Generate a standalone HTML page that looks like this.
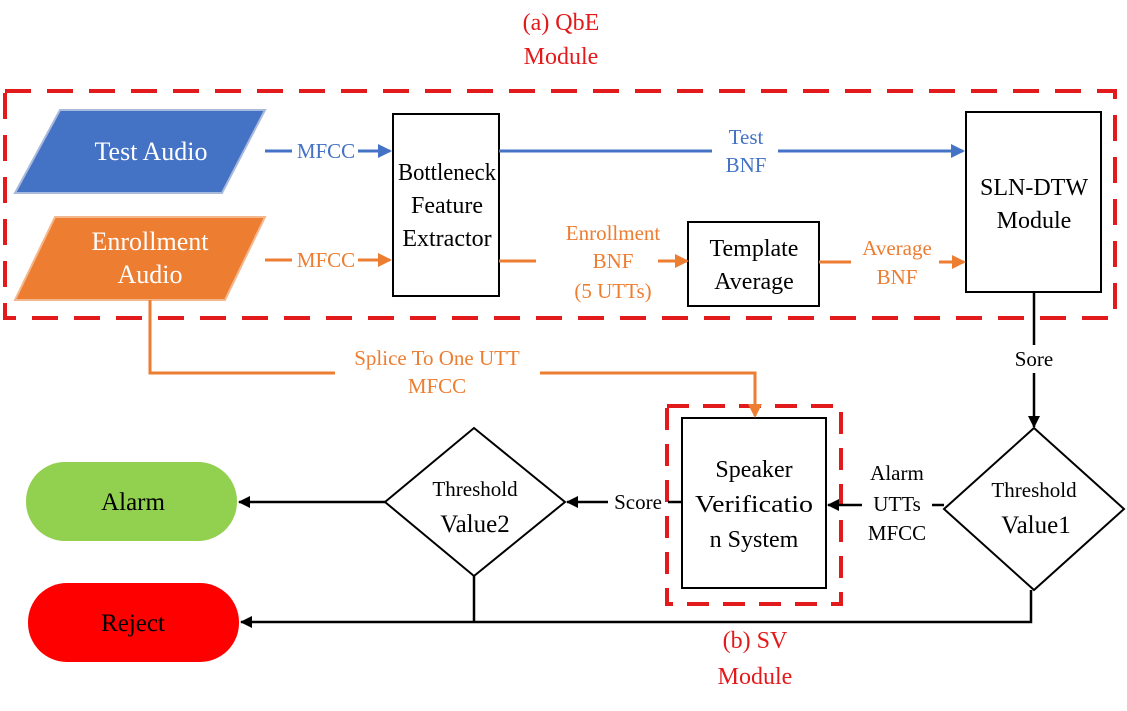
<!DOCTYPE html>
<html><head><meta charset="utf-8"><style>
body{margin:0;background:#fff}
svg text{font-family:"Liberation Serif",serif}
</style></head><body>
<svg width="1127" height="706" viewBox="0 0 1127 706" xmlns="http://www.w3.org/2000/svg">
<defs>
<marker id="ao" markerWidth="14" markerHeight="14" refX="12" refY="7" orient="auto" markerUnits="userSpaceOnUse"><path d="M0,0 L14,7 L0,14 z" fill="#ed7d31"/></marker>
<marker id="ak" markerWidth="12" markerHeight="12" refX="11" refY="6" orient="auto" markerUnits="userSpaceOnUse"><path d="M0,0 L12,6 L0,12 z" fill="#000"/></marker>
<marker id="ab2" markerWidth="14" markerHeight="14" refX="12" refY="7" orient="auto" markerUnits="userSpaceOnUse"><path d="M0,0 L14,7 L0,14 z" fill="#4472c4"/></marker>
</defs>
<g fill="#e31a1c" font-size="24" text-anchor="middle">
<text x="561" y="30">(a) QbE</text><text x="561" y="64">Module</text>
<text x="755" y="648">(b) SV</text><text x="755" y="684">Module</text>
</g>
<rect x="5" y="91" width="1110" height="227" fill="none" stroke="#e31a1c" stroke-width="4" stroke-dasharray="26,16"/>
<rect x="667" y="406" width="174" height="198" fill="none" stroke="#e31a1c" stroke-width="4" stroke-dasharray="22,14"/>
<polygon points="15,193 60,110 265,110 222,193" fill="#4472c4" stroke="#a9b9dc" stroke-width="2"/>
<polygon points="15,300 55,217 265,217 225,300" fill="#ed7d31" stroke="#f4b88e" stroke-width="2"/>
<g fill="#fff" font-size="26" text-anchor="middle">
<text x="151" y="160">Test Audio</text>
<text x="150" y="250">Enrollment</text><text x="150" y="283">Audio</text>
</g>
<rect x="393" y="114" width="106" height="182" fill="#fff" stroke="#000" stroke-width="2"/>
<rect x="966" y="112" width="135" height="180" fill="#fff" stroke="#000" stroke-width="2"/>
<rect x="688" y="222" width="131" height="84" fill="#fff" stroke="#000" stroke-width="2"/>
<rect x="682" y="418" width="144" height="170" fill="#fff" stroke="#000" stroke-width="2"/>
<g font-size="24" text-anchor="middle" fill="#000">
<text x="447" y="180" textLength="98" lengthAdjust="spacingAndGlyphs">Bottleneck</text><text x="447" y="213">Feature</text><text x="447" y="246">Extractor</text>
<text x="1034" y="195">SLN-DTW</text><text x="1034" y="228">Module</text>
<text x="754" y="256">Template</text><text x="754" y="289">Average</text>
<text x="754" y="477">Speaker</text><text x="754" y="512" textLength="118" lengthAdjust="spacingAndGlyphs">Verificatio</text><text x="754" y="547">n System</text>
</g>
<g stroke="#4472c4" stroke-width="3" fill="none">
<line x1="265" y1="151" x2="292" y2="151"/><line x1="358" y1="151" x2="390" y2="151" marker-end="url(#ab2)"/>
<line x1="499" y1="151" x2="712" y2="151"/><line x1="778" y1="151" x2="963" y2="151" marker-end="url(#ab2)"/>
</g>
<g fill="#4472c4" font-size="21" text-anchor="middle">
<text x="326" y="158">MFCC</text><text x="746" y="144">Test</text><text x="746" y="172">BNF</text>
</g>
<g stroke="#ed7d31" stroke-width="3" fill="none">
<line x1="265" y1="260" x2="292" y2="260"/><line x1="358" y1="260" x2="390" y2="260" marker-end="url(#ao)"/>
<line x1="499" y1="261" x2="536" y2="261"/><line x1="658" y1="261" x2="687" y2="261" marker-end="url(#ao)"/>
<line x1="819" y1="262" x2="851" y2="262"/><line x1="939" y1="262" x2="964" y2="262" marker-end="url(#ao)"/>
<polyline points="150,300 150,373 755,373 755,416" marker-end="url(#ao)"/>
</g>
<rect x="335" y="347" width="205" height="48" fill="#fff"/>
<g fill="#ed7d31" font-size="21" text-anchor="middle">
<text x="326" y="267">MFCC</text>
<text x="613" y="240">Enrollment</text><text x="613" y="268">BNF</text><text x="613" y="298">(5 UTTs)</text>
<text x="897" y="255">Average</text><text x="897" y="284">BNF</text>
<text x="437" y="365">Splice To One UTT</text><text x="437" y="393">MFCC</text>
</g>
<polygon points="1034,428 1124,509 1034,590 944,509" fill="#fff" stroke="#000" stroke-width="2"/>
<polygon points="474,428 565,502 474,576 385,502" fill="#fff" stroke="#000" stroke-width="2"/>
<g stroke="#000" stroke-width="2.5" fill="none">
<line x1="1034" y1="292" x2="1034" y2="345"/><line x1="1034" y1="373" x2="1034" y2="427" marker-end="url(#ak)"/>
<line x1="944" y1="505" x2="932" y2="505"/><line x1="862" y1="505" x2="828" y2="505" marker-end="url(#ak)"/>
<line x1="682" y1="502" x2="668" y2="502"/><line x1="608" y1="502" x2="567" y2="502" marker-end="url(#ak)"/>
<line x1="385" y1="502" x2="239" y2="502" marker-end="url(#ak)"/>
<polyline points="1031,590 1031,622 241,622" marker-end="url(#ak)"/>
<line x1="474" y1="576" x2="474" y2="622"/>
</g>
<g font-size="21" text-anchor="middle" fill="#000">
<text x="1034" y="366">Sore</text>
<text x="638" y="509">Score</text>
<text x="897" y="480">Alarm</text><text x="897" y="511">UTTs</text><text x="897" y="540">MFCC</text>
<text x="1034" y="497">Threshold</text><text x="1036" y="533" font-size="25">Value1</text>
<text x="475" y="496">Threshold</text><text x="475" y="532" font-size="25">Value2</text>
</g>
<rect x="26" y="462" width="211" height="79" rx="39" fill="#92d050"/>
<rect x="28" y="583" width="211" height="79" rx="39" fill="#ff0000"/>
<g font-size="25" text-anchor="middle" fill="#000">
<text x="133" y="510">Alarm</text><text x="133" y="631">Reject</text>
</g>
</svg>
</body></html>
